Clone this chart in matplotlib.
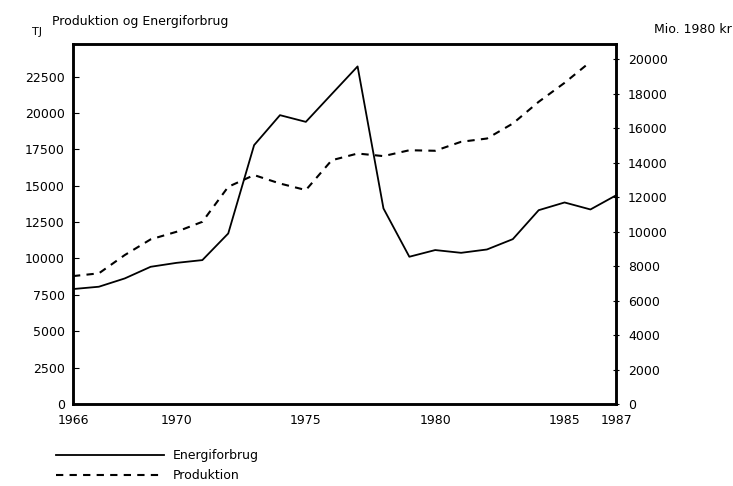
"""Produktion og Energiforbrug, 1966-1987."""

import matplotlib.pyplot as plt
from matplotlib.lines import Line2D

years = list(range(1966, 1988))
energi = [7900, 8060, 8630, 9430, 9700, 9890, 11720, 17790, 19850, 19390, 21300,
          23200, 13440, 10120, 10580, 10390, 10620, 11330, 13320, 13850, 13370, 14350]
prod_years = list(range(1966, 1987))
produktion = [7420, 7580, 8640, 9550, 9990, 10570, 12600, 13280, 12790, 12410, 14140,
              14530, 14380, 14720, 14690, 15210, 15400, 16270, 17530, 18630, 19850]

left_ticks = list(range(0, 22501, 2500))
right_ticks = list(range(0, 20001, 2000))
x_ticks = [1966, 1970, 1975, 1980, 1985, 1987]

plt.rcParams['font.family'] = 'DejaVu Sans'
plt.rcParams['font.size'] = 9

fig = plt.figure(figsize=(7.33, 4.86), dpi=100)
ax = fig.add_axes([0.0996, 0.1687, 0.7412, 0.7403])
ax2 = ax.twinx()

ax.plot(years, energi, color='black', lw=1.3)
ax2.plot(prod_years, produktion, color='black', lw=1.5, ls=(0, (3.5, 3)))

ax.set_xlim(1966, 1987)
ax.set_ylim(0, 24725)
ax2.set_ylim(0, 20870)

ax.set_xticks(x_ticks)
ax.set_yticks(left_ticks)
ax2.set_yticks(right_ticks)
ax.tick_params(axis='x', length=0, pad=7)
ax.tick_params(axis='y', direction='in', length=4, pad=6)
ax2.tick_params(axis='y', direction='inout', length=5, pad=6)

for a in (ax, ax2):
    for s in a.spines.values():
        s.set_linewidth(1.8)

fig.text(0.071, 0.955, 'Produktion og Energiforbrug', fontsize=9, va='center')
fig.text(0.043, 0.935, 'TJ', fontsize=8, va='center')
fig.text(0.998, 0.94, 'Mio. 1980 kr', fontsize=9, va='center', ha='right')

handles = [Line2D([], [], color='black', lw=1.3),
           Line2D([], [], color='black', lw=1.5, ls=(0, (3.5, 3)))]
fig.legend(handles, ['Energiforbrug', 'Produktion'], loc='upper left',
           bbox_to_anchor=(0.068, 0.088), frameon=False, handlelength=8.6,
           handletextpad=0.7, labelspacing=0.55, borderpad=0, fontsize=9)

plt.savefig('out.png', dpi=100)
